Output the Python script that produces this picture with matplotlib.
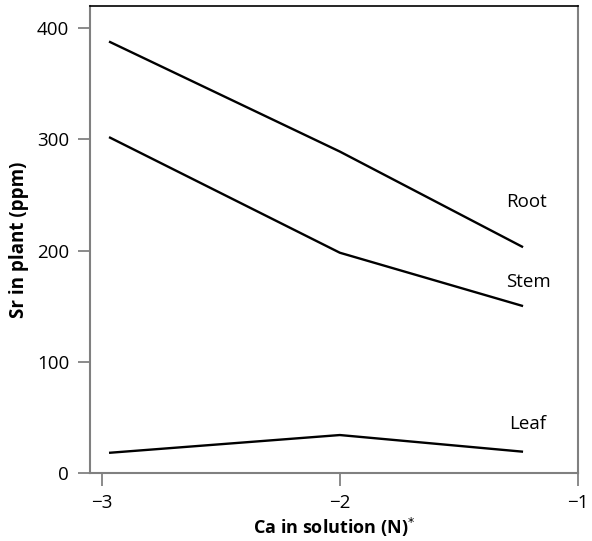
import numpy as np
import matplotlib.pyplot as plt

plt.rcParams['font.family'] = ['Open Sans', 'DejaVu Sans']

# Data
ca = [-2.97, -2.0, -1.23]
root = [388, 289, 203]
stem = [302, 198, 150]
leaf = [18, 34, 19]

fig = plt.figure(figsize=(5.92, 5.41), dpi=100)
ax = fig.add_axes([0.152, 0.126, 0.824, 0.863])

for y in (root, stem, leaf):
    ax.plot(ca, y, 'k-', linewidth=1.7, solid_capstyle='butt')

ax.text(-1.30, 244, 'Root', fontsize=13.5, ha='left', va='center')
ax.text(-1.30, 172, 'Stem', fontsize=13.5, ha='left', va='center')
ax.text(-1.29, 44, 'Leaf', fontsize=13.5, ha='left', va='center')

ax.set_xlim(-3.05, -1)
ax.set_ylim(0, 420)
ax.set_xticks([-3, -2, -1], ['\u22123', '\u22122', '\u22121'])
ax.set_yticks([0, 100, 200, 300, 400])
ax.tick_params(direction='out', length=9, width=1.2, color='#777777',
               labelsize=13.5, pad=6)

for s in ('left', 'right', 'bottom'):
    ax.spines[s].set_color('#808080')
    ax.spines[s].set_linewidth(1.5)
ax.spines['top'].set_color('black')
ax.spines['top'].set_linewidth(1.2)

ax.set_xlabel(r'Ca in solution (N)$^{*}$', fontsize=13, fontweight='bold',
              labelpad=3)
ax.set_ylabel('Sr in plant (ppm)', fontsize=13.5, fontweight='bold',
              labelpad=6)

plt.savefig('out.png', dpi=100)
